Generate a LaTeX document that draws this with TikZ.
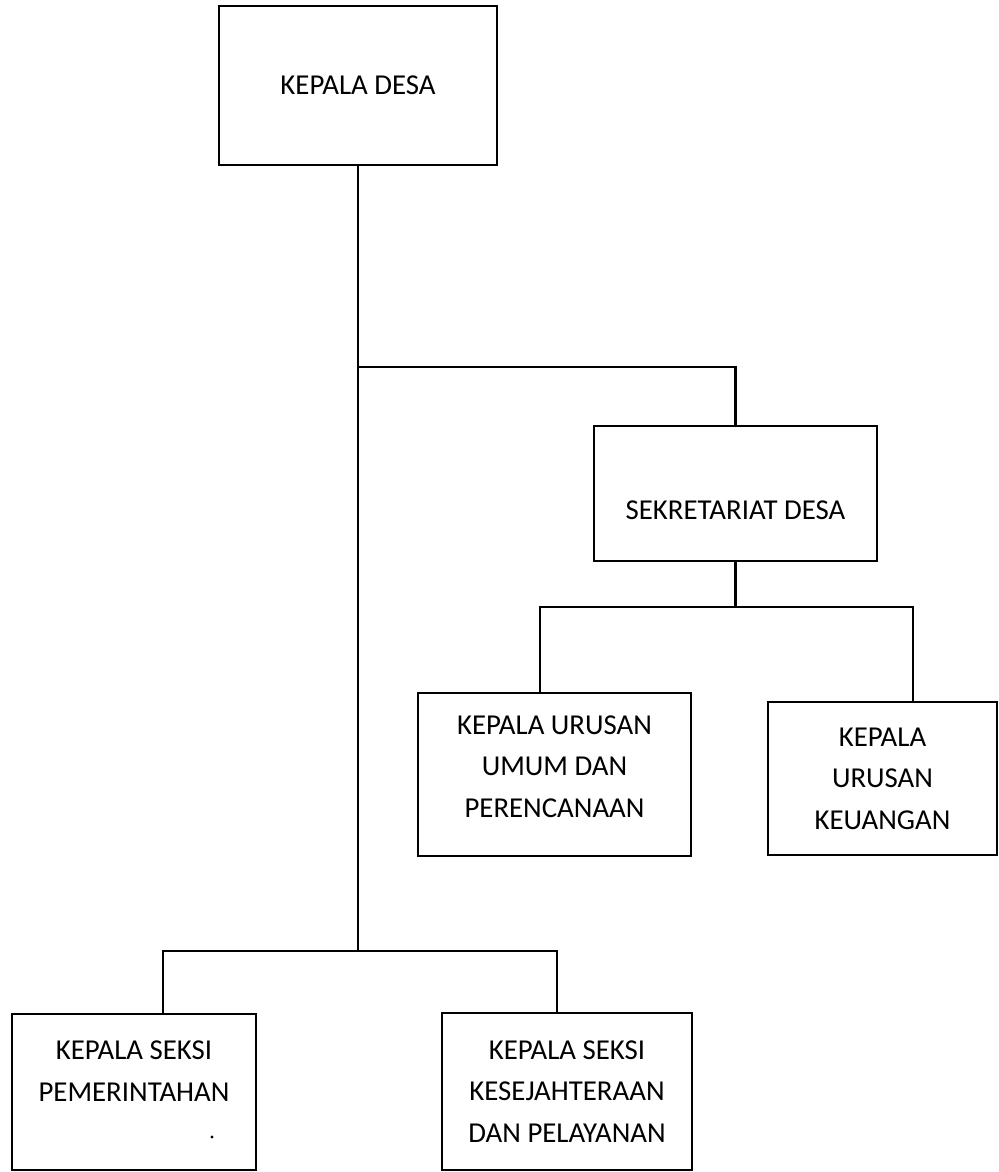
\documentclass[tikz,border=0pt]{standalone}
\usepackage{fontspec}
\setmainfont{Carlito}
\usepackage{tikz}
\usetikzlibrary{positioning, calc}

\begin{document}
\begin{tikzpicture}[x=0.025cm, y=-0.025cm,
        box/.style={draw, line width=1.6pt, inner sep=0pt, align=center,
            font=\fontsize{20.5}{29.5}\selectfont},
        link/.style={line width=1.6pt}]
    \useasboundingbox (0,0) rectangle (999,1172);
    \node[box, minimum width=6.95cm, minimum height=3.975cm] (desa) at (358, 85.5) {KEPALA DESA};
    \node[box, minimum width=7.075cm, minimum height=3.375cm, text height=1.5cm, text depth=0.22cm] (sek) at (735.5, 493.5) {SEKRETARIAT DESA};
    \node[box, minimum width=6.825cm, minimum height=4.075cm] (umum) at (554.5, 774.5) {KEPALA URUSAN\\UMUM DAN\\PERENCANAAN\\[-0.64cm]\mbox{}};
    \node[box, minimum width=5.725cm, minimum height=3.825cm] (keu) at (882.5, 778.5) {KEPALA\\URUSAN\\KEUANGAN};
    \node[box, minimum width=6.1cm, minimum height=3.9cm] (pem) at (134, 1092) {KEPALA SEKSI\\PEMERINTAHAN\\\mbox{}};
    \node[box, minimum width=6.25cm, minimum height=3.925cm] (kes) at (567, 1091.5) {KEPALA SEKSI\\KESEJAHTERAAN\\DAN PELAYANAN};
    % junctions of the tree
    \coordinate (j1) at (358, 367);
    \coordinate (j2) at (358, 951);
    \coordinate (s1) at (540, 607);
    \coordinate (s2) at (913, 607);
    \coordinate (b1) at (163, 951);
    \coordinate (b2) at (557, 951);
    \draw[link]
    (desa.south) -- (j2)
    (j1) -| (sek.north)
    (sek.south) -- (sek.south |- s1)
    (umum.north -| s1) -- (s1) -- (s2) -- (keu.north -| s2)
    (pem.north -| b1) -- (b1) -- (b2) -- (kes.north -| b2);
    \fill (212, 1137) circle (1.2pt);
\end{tikzpicture}
\end{document}
